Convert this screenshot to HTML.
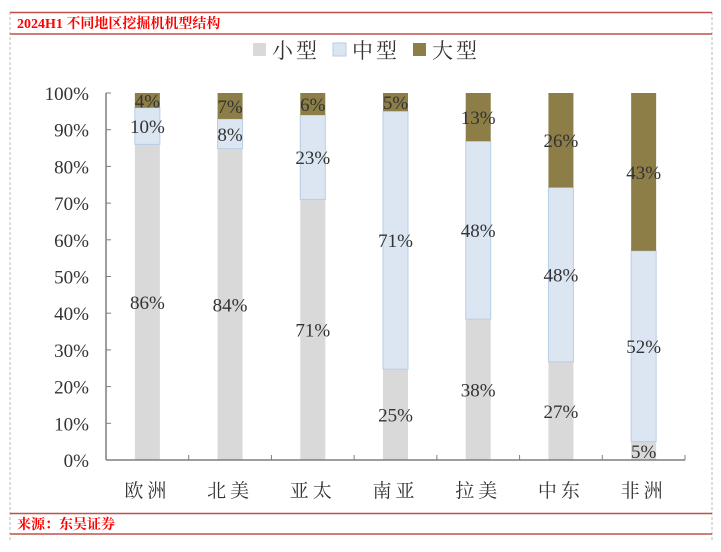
<!DOCTYPE html>
<html><head><meta charset="utf-8"><style>
body{margin:0;background:#fff;width:721px;height:547px;overflow:hidden;font-family:"Liberation Serif","Noto Serif CJK SC",serif}
</style></head><body>
<svg width="721" height="547" id="svg" xmlns="http://www.w3.org/2000/svg">
<line x1="10" y1="12" x2="10" y2="540" stroke="#bbb" stroke-dasharray="3,2"/>
<line x1="712" y1="12" x2="712" y2="540" stroke="#bbb" stroke-dasharray="3,2"/>
<line x1="10" y1="12.5" x2="712" y2="12.5" stroke="#c0504d" stroke-width="1.5"/>
<line x1="10" y1="34" x2="712" y2="34" stroke="#c0504d" stroke-width="1.5"/>
<text x="17" y="28" fill="#ff0000" font-weight="bold" font-size="14" font-family="Liberation Serif,Noto Serif CJK SC,serif">2024H1 不同地区挖掘机机型结构</text>
<line x1="10" y1="513.5" x2="712" y2="513.5" stroke="#c0504d" stroke-width="1.5"/>
<line x1="10" y1="534" x2="712" y2="534" stroke="#c0504d" stroke-width="1.5"/>
<text x="17" y="529" fill="#ff0000" font-weight="bold" font-size="14" font-family="Noto Serif CJK SC,serif">来源：东吴证券</text>
<g id="plot"></g>
</svg>
<script>
const categories=["欧洲","北美","亚太","南亚","拉美","中东","非洲"];
const smallVals=[86,84,71,25,38,27,5];
const mediumVals=[10,8,23,71,48,48,52];
const largeVals=[4,7,6,5,13,26,43];
const yTicks=[0,10,20,30,40,50,60,70,80,90,100];
const seriesNames=["小型","中型","大型"];
const NS="http://www.w3.org/2000/svg";
const g=document.getElementById('plot');
const x0=106,x1=685,y0=460,yTop=93;
const band=(x1-x0)/categories.length;
const xc=i=>x0+band*(i+0.5);
const y=v=>y0-(v/100)*(y0-yTop);
function mk(t,a){const e=document.createElementNS(NS,t);for(const k in a)e.setAttribute(k,a[k]);g.appendChild(e);return e;}
const fills=["#d9d9d9","#dce6f2","#8c7e46"];
const strokes=["none","#b9cde5","none"];
const series=[smallVals,mediumVals,largeVals];
const bw=25;
categories.forEach((c,i)=>{
  const tot=smallVals[i]+mediumVals[i]+largeVals[i];
  let cum=0;
  series.forEach((s,k)=>{
    const v=s[i]*100/tot;
    const r=mk('rect',{x:xc(i)-bw/2,y:y(cum+v),width:bw,height:y(cum)-y(cum+v),fill:fills[k],stroke:strokes[k]});
    
    
    const t=mk('text',{x:xc(i),y:y(cum+v/2)+7,'text-anchor':'middle','font-size':19,fill:'#333'});
    t.textContent=s[i]+'%';
    
    
    cum+=v;
  });
  const lb=mk('text',{x:xc(i),y:497,'text-anchor':'middle','font-size':19,fill:'#333','letter-spacing':'4'});
  lb.textContent=c;
  
  
  const tk=mk('line',{x1:x0+band*(i+1),x2:x0+band*(i+1),y1:y0,y2:y0-5,stroke:'#7f7f7f'});
  
  
});
yTicks.forEach(v=>{
  const l=mk('line',{x1:x0,x2:x0+5,y1:y(v),y2:y(v),stroke:'#7f7f7f'});
  
  
  const t=mk('text',{x:x0-17,y:y(v)+7,'text-anchor':'end','font-size':19,fill:'#333'});
  t.textContent=v+'%';
  
  
});
const ya=mk('line',{x1:x0,x2:x0,y1:y0,y2:yTop,stroke:'#7f7f7f','stroke-width':1.5});


const xa=mk('line',{x1:x0,x2:x1,y1:y0,y2:y0,stroke:'#7f7f7f','stroke-width':1.5});


const lx=[253,333,413];
seriesNames.forEach((n,k)=>{
  const s=mk('rect',{x:lx[k],y:43,width:13,height:13,fill:fills[k],stroke:strokes[k]});
  
  
  const t=mk('text',{x:lx[k]+19,y:58,'font-size':21,fill:'#333','letter-spacing':'3'});
  t.textContent=n;
  
  
});
</script>
</body></html>
